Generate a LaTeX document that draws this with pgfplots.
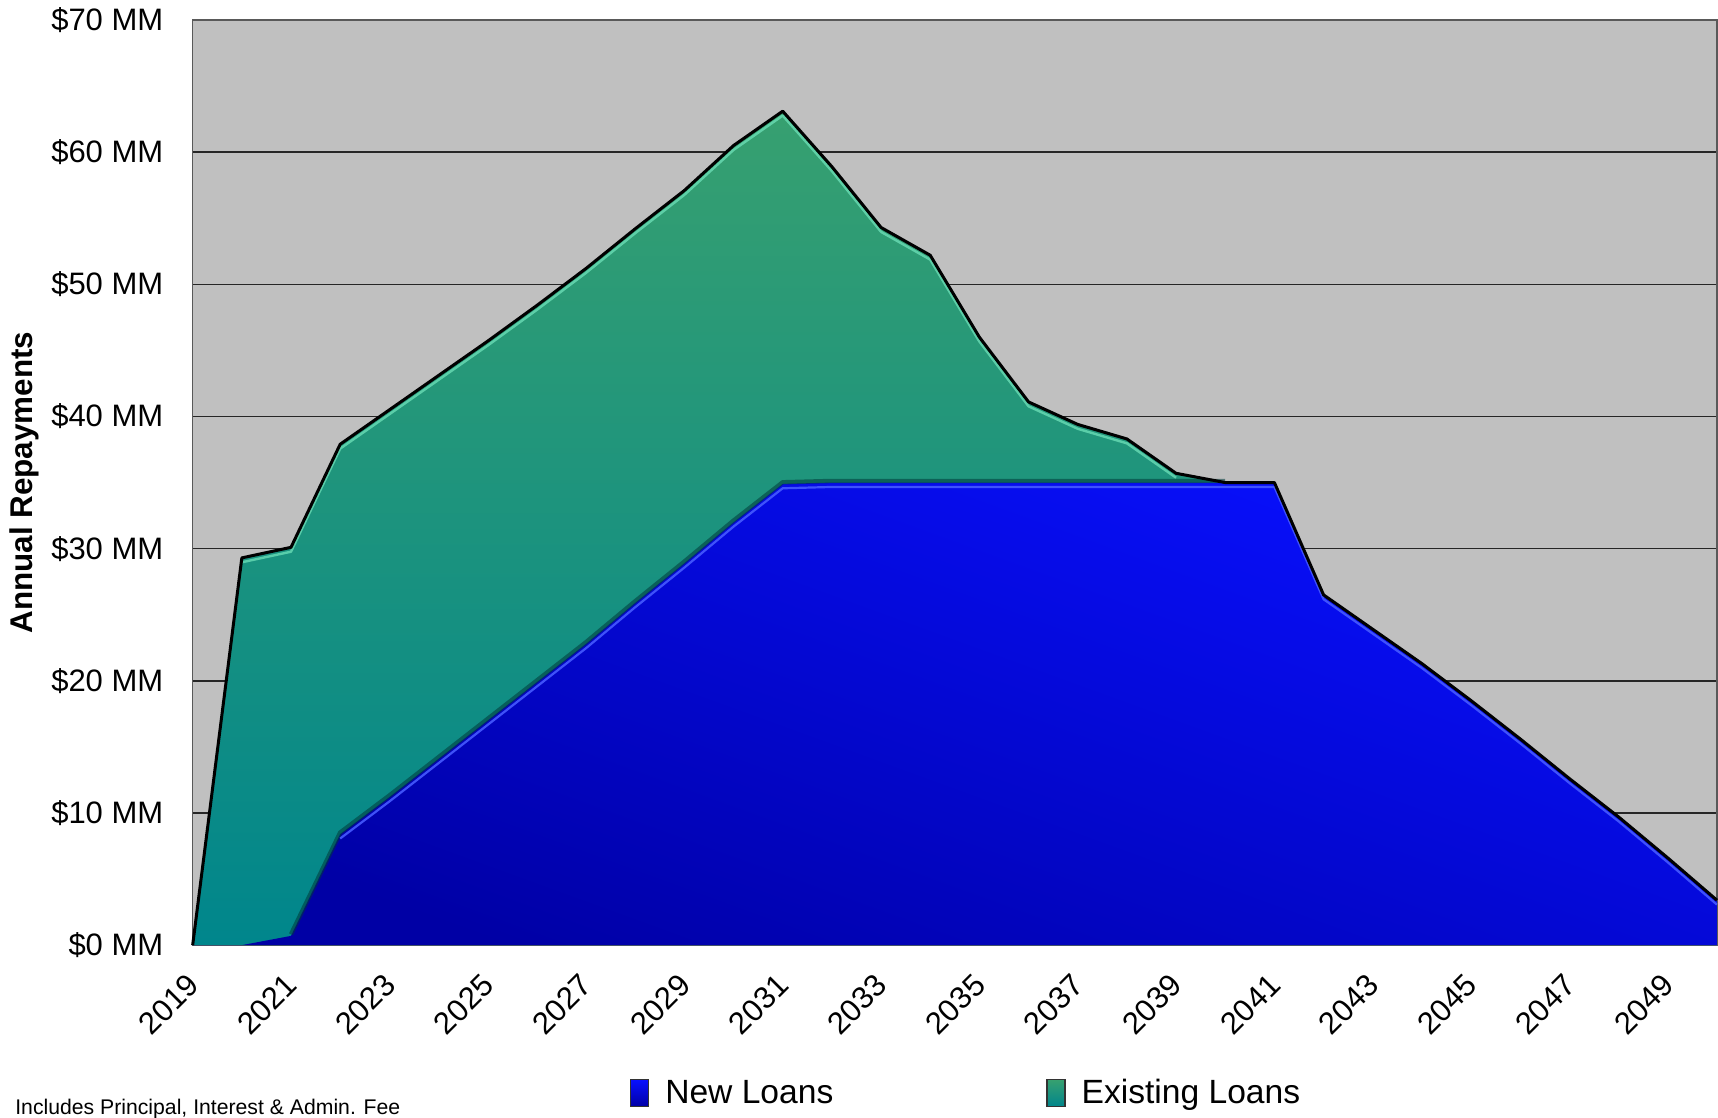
\documentclass[border=0pt]{standalone}
\usepackage{pgfplots}
\pgfplotsset{compat=1.18}
\usepackage{pgfplotstable}
\usepackage{fontspec}
\setmainfont{Liberation Sans}
\definecolor{bgray}{RGB}{192,192,192}
\definecolor{grtop}{RGB}{55,160,112}
\definecolor{grbot}{RGB}{0,134,140}
\definecolor{grhi}{RGB}{110,225,185}
\definecolor{bltop}{RGB}{8,16,255}
\definecolor{blbot}{RGB}{0,0,165}
\definecolor{blhi}{RGB}{70,90,255}

\pgfplotstableread{
year new existing
2019 0 0
2020 0 29.3
2021 0.7 29.4
2022 8.4 29.5
2023 11.2 29.3
2024 14.1 29.0
2025 17.0 28.7
2026 19.9 28.5
2027 22.8 28.4
2028 25.9 28.3
2029 28.9 28.2
2030 32.0 28.5
2031 34.9 28.2
2032 35.0 23.9
2033 35.0 19.3
2034 35.0 17.2
2035 35.0 11.0
2036 35.0 6.1
2037 35.0 4.4
2038 35.0 3.3
2039 35.0 0.7
2040 35.0 0
2041 35.0 0
2042 26.5 0
2043 23.9 0
2044 21.3 0
2045 18.5 0
2046 15.6 0
2047 12.6 0
2048 9.7 0
2049 6.6 0
2050 3.4 0
}\data

\begin{document}
\begin{tikzpicture}
\begin{axis}[
  scale only axis, width=762bp, height=462.5bp,
  xmin=2019, xmax=2050, ymin=0, ymax=70,
  xtick={2019,2021,...,2049}, ytick={0,10,...,70},
  major tick length=0pt,
  ymajorgrids, grid style={black!85, line width=0.7bp},
  axis background/.style={fill=bgray},
  axis line style={draw=black!65, line width=0.8bp},
  clip=false,
  /pgf/number format/assume math mode=true,
  /pgf/number format/1000 sep={},
  tick label style={font=\fontsize{15.5bp}{18bp}\selectfont},
  xticklabel style={rotate=45, anchor=north east, inner sep=0pt, xshift=-12.0bp, yshift=-6.8bp},
  yticklabel style={anchor=east, inner sep=0pt, xshift=-14.5bp},
  yticklabel={\$\pgfmathprintnumber{\tick} MM},
  ylabel={Annual Repayments},
  every axis y label/.style={at={(axis description cs:-0.1107,0.5)}, rotate=90, anchor=center,
    font=\bfseries\fontsize{15.7bp}{18bp}\selectfont},
  legend image code/.code={\draw[draw=black!80, line width=0.6bp, #1] (0bp,-6.7bp) rectangle (9bp,6.7bp);},
  legend style={at={(axis description cs:0.2867,-0.16)}, anchor=west, draw=none, fill=none,
    inner sep=0pt, font=\fontsize{16.8bp}{19bp}\selectfont,
    /tikz/every odd column/.append style={column sep=6bp},
    /tikz/every even column/.append style={column sep=104.5bp}},
  legend columns=2,
  legend cell align=left,
]
% total (green) area
\addplot[draw=none, top color=grtop, bottom color=grbot, forget plot]
  table[x=year, y expr=\thisrow{new}+\thisrow{existing}] {\data} \closedcycle;
% new loans (blue) area
\addplot[draw=none, top color=bltop, bottom color=blbot, shading angle=-20, forget plot]
  table[x=year, y=new] {\data} \closedcycle;
% shadow of blue edge inside green
\addplot[draw=black!55!teal, line width=2.2bp, opacity=0.55, line join=round, yshift=0.8bp,
  restrict x to domain=2021:2040, forget plot]
  table[x=year, y=new] {\data};
% highlight of blue edge
\addplot[draw=blhi, line width=1.1bp, yshift=-2.2bp, opacity=0.9, line join=round,
  restrict x to domain=2022:2050, forget plot]
  table[x=year, y=new] {\data};
% highlight along total (green part)
\addplot[draw=grhi, line width=1.2bp, yshift=-2.2bp, opacity=0.75, line join=round,
  restrict x to domain=2020:2039, forget plot]
  table[x=year, y expr=\thisrow{new}+\thisrow{existing}] {\data};
% black outline along total
\addplot[draw=black, line width=1.5bp, line join=round, forget plot]
  table[x=year, y expr=\thisrow{new}+\thisrow{existing}] {\data};

\addlegendimage{top color=bltop, bottom color=blbot}
\addlegendentry{New Loans}
\addlegendimage{top color=grtop, bottom color=grbot}
\addlegendentry{Existing Loans}

\node[anchor=base west, inner sep=0pt, font=\fontsize{10.6bp}{12bp}\selectfont]
  at (axis description cs:-0.1166,-0.1827) {Includes Principal, Interest \& Admin. Fee};
\coordinate (bbl) at (axis description cs:-0.1264,-0.186);
\coordinate (btr) at (axis description cs:1.0007,1.0216);
\end{axis}
\pgfresetboundingbox
\path (bbl) rectangle (btr);
\end{tikzpicture}
\end{document}
